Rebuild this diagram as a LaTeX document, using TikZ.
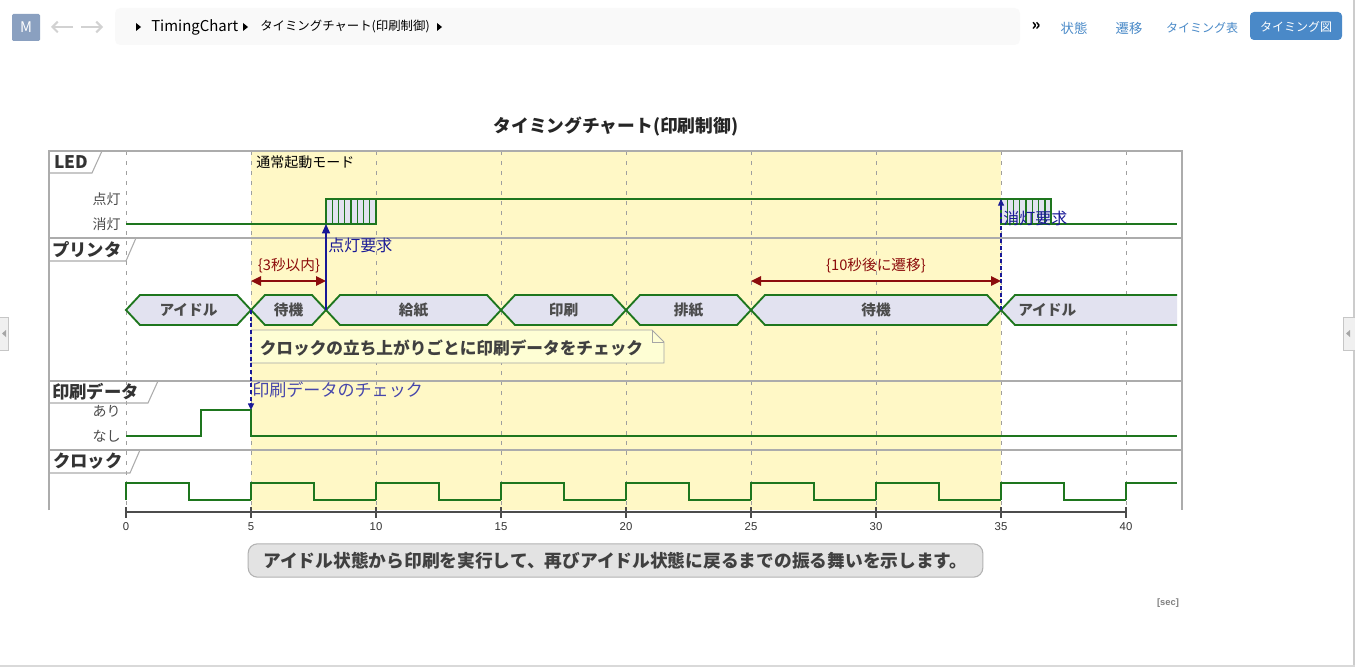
\documentclass[tikz,border=0pt]{standalone}
\usepackage{fontspec}
\setmainfont{Noto Sans CJK JP}
\newfontfamily\numfont{Liberation Sans}
\usepackage{tikz}
\usetikzlibrary{arrows.meta,calc,positioning}

\definecolor{sig}{RGB}{30,118,30}
\definecolor{statefill}{RGB}{226,226,240}
\definecolor{modefill}{RGB}{255,248,198}
\definecolor{reqblue}{RGB}{24,24,150}
\definecolor{durred}{RGB}{140,12,12}
\definecolor{notefill}{RGB}{254,254,212}
\definecolor{linkblue}{RGB}{74,138,200}
\definecolor{btnblue}{RGB}{74,137,200}
\definecolor{mbox}{RGB}{138,160,192}

\begin{document}
\begin{tikzpicture}[x=0.75pt, y=-0.75pt, >=Stealth,
  sigline/.style={draw=sig, line width=1.5pt},
  statebox/.style={draw=sig, line width=1.4pt, fill=statefill},
  gridline/.style={draw=gray!75, line width=0.6pt, dash pattern=on 3pt off 4.5pt},
  frameline/.style={draw=gray!65, line width=0.8pt},
  rowname/.style={anchor=west, inner sep=0pt, font=\bfseries\fontsize{13}{15}\selectfont, text=black!80},
  levelname/.style={anchor=east, inner sep=0pt, font=\fontsize{10.5}{12}\selectfont, text=black!70},
  statename/.style={inner sep=0pt, font=\bfseries\fontsize{11}{13}\selectfont, text=black!70},
  reqarrow/.style={draw=reqblue, line width=1pt, -{Triangle[length=7pt,width=6pt]}},
  reqdash/.style={reqarrow, dash pattern=on 3pt off 2pt, -{Triangle[length=5pt,width=4.5pt]}},
  reqlabel/.style={anchor=west, inner sep=0pt, text=reqblue, font=\fontsize{12}{14}\selectfont},
  durarrow/.style={draw=durred, line width=1.2pt, {Triangle[length=7.5pt,width=7pt]}-{Triangle[length=7.5pt,width=7pt]}},
  durlabel/.style={inner sep=0pt, text=durred, font=\fontsize{11}{13}\selectfont},
  toplink/.style={inner sep=0pt, text=linkblue, font=\fontsize{10}{12}\selectfont}
]
  \useasboundingbox (0,0) rectangle (1355,667);
  \fill[white] (0,0) rectangle (1355,667);

  % Top bar
  \fill[mbox, rounded corners=1pt] (12,14) rectangle (40,41);
  \node[text=white, inner sep=0pt, font=\fontsize{11}{13}\selectfont] (mlogo) at (26,27.5) {M};
  \draw[gray!35, line width=1.5pt, -{Straight Barb[length=4pt,width=8pt]}] (73,27) -- (51,27);
  \draw[gray!35, line width=1.5pt, -{Straight Barb[length=4pt,width=8pt]}] (81,27) -- (103,27);
  \fill[gray!5, rounded corners=4pt] (115,8) rectangle (1020,45);
  \foreach \bx in {136,243,437} \fill[black] (\bx,23) -- (\bx+5,27) -- (\bx,31) -- cycle;
  \node[anchor=west, inner sep=0pt, font=\fontsize{11.2}{13}\selectfont] (crumb1) at (151,27) {TimingChart};
  \node[anchor=west, inner sep=0pt, font=\fontsize{9.3}{12}\selectfont] (crumb2) at (260,27) {タイミングチャート(印刷制御)};
  \node[inner sep=0pt, font=\bfseries\fontsize{12}{14}\selectfont] (more) at (1036,26) {»};
  \node[toplink] (lnkstate) at (1074,28) {状態};
  \node[toplink] (lnktrans) at (1129,28) {遷移};
  \node[toplink, font=\fontsize{9}{11}\selectfont] (lnktable) at (1202,28) {タイミング表};
  \fill[btnblue, rounded corners=3pt] (1250,12) rectangle (1342,40);
  \node[text=white, inner sep=0pt, font=\fontsize{9}{11}\selectfont] (lnkchart) at (1296,27) {タイミング図};

  % Window edges
  \draw[gray!40, line width=0.8pt] (1354,0) -- (1354,667);
  \draw[gray!30, line width=0.8pt] (0,666) -- (1355,666);
  \filldraw[fill=gray!12, draw=gray!45] (-1,317) rectangle (8,350);
  \fill[gray!70] (2,333.5) -- (6,330) -- (6,337) -- cycle;
  \filldraw[fill=gray!12, draw=gray!45] (1343,317) rectangle (1356,350);
  \fill[gray!70] (1346,333.5) -- (1350,330) -- (1350,337) -- cycle;

  % Title
  \node[inner sep=0pt, font=\bfseries\fontsize{13.3}{15}\selectfont, text=black!85] (title) at (616,127) {タイミングチャート(印刷制御)};

  \begin{scope}[shift={(126,0)}, x=18.75pt]
    % Mode highlight and grid
    \fill[modefill] (5,151) rectangle (35,510);
    \foreach \t in {0,5,...,40} \draw[gridline] (\t,151) -- (\t,510);
  \end{scope}

  % Frame and rows
  \draw[frameline] (49,510) -- (49,151) -- (1182,151) -- (1182,510);
  \foreach \ry in {238,381,450} \draw[frameline] (49,\ry) -- (1182,\ry);
  \draw[frameline] (49,173) -- (92,173) -- (102,151);
  \draw[frameline] (49,261) -- (126,261) -- (136,238);
  \draw[frameline] (49,403) -- (148,403) -- (158,381);
  \draw[frameline] (49,473) -- (130,473) -- (140,450);
  \node[rowname] (tabled) at (54,162) {LED};
  \node[rowname] (tabprn) at (52,250) {プリンタ};
  \node[rowname] (tabdata) at (52,392) {印刷データ};
  \node[rowname] (tabclk) at (53,461) {クロック};
  \node[anchor=west, inner sep=0pt, font=\fontsize{10.5}{12}\selectfont] (mode) at (256,162) {通常起動モード};

  \node[levelname] (lvon) at (121,199) {点灯};
  \node[levelname] (lvoff) at (121,224) {消灯};
  \node[levelname] (lvyes) at (121,411) {あり};
  \node[levelname] (lvno) at (121,436) {なし};

  \begin{scope}[shift={(126,0)}, x=18.75pt]
    % LED
    \draw[sigline] (0,224) -- (8,224);
    \draw[sigline] (10,199) -- (35,199);
    \draw[sigline] (37,224) -- (42.04,224);
    \foreach \s in {8,35} {
      \fill[statefill] (\s,199) rectangle ({\s+2},224);
      \foreach \k in {1,...,7} \draw[sig, line width=1.1pt] ({\s+\k/4},199) -- ({\s+\k/4},224);
      \draw[sigline] (\s,199) rectangle ({\s+2},224);
    }

    % Printer states
    \foreach \a/\b/\lab/\nm in {0/5/アイドル/idle, 5/8/待機/waita, 8/15/給紙/feed, 15/20/印刷/print, 20/25/排紙/eject, 25/35/待機/waitb} {
      \draw[statebox] (\a,310) -- ({\a+0.56},295) -- ({\b-0.56},295) -- (\b,310) -- ({\b-0.56},325) -- ({\a+0.56},325) -- cycle;
      \node[statename] (\nm) at ({(\a+\b)/2},310) {\lab};
    }
    \fill[statefill] (35,310) -- (35.56,295) -- (42.04,295) -- (42.04,325) -- (35.56,325) -- cycle;
    \draw[sigline, line width=1.4pt] (42.04,295) -- (35.56,295) -- (35,310) -- (35.56,325) -- (42.04,325);
    \node[statename, anchor=west] (idleb) at (35.68,310) {アイドル};

    % Print data
    \draw[sigline] (0,436) -- (3,436) -- (3,410) -- (5,410) -- (5,436) -- (42.04,436);

    % Clock
    \foreach \k in {0,...,7}
      \draw[sigline] (5*\k,500) -- (5*\k,483) -- (5*\k+2.5,483) -- (5*\k+2.5,500) -- (5*\k+5,500);
    \draw[sigline] (40,500) -- (40,483) -- (42.04,483);

    % Note
    \coordinate (nw) at (5,330);
    \draw[draw=gray!70, fill=notefill, line width=0.6pt] (nw) -- (21.04,330) -- (21.52,342) -- (21.52,363) -- (5,363) -- cycle;
    \draw[gray!70, line width=0.6pt] (21.04,330) -- (21.04,342) -- (21.52,342);
    \node[anchor=west, inner sep=0pt, font=\bfseries\fontsize{12.5}{14}\selectfont, text=black!75] (chknote) at (5.34,348) {クロックの立ち上がりごとに印刷データをチェック};

    % Constraints
    \coordinate (d3a) at (5,281);
    \coordinate (d3b) at (8,281);
    \coordinate (d10a) at (25,281);
    \coordinate (d10b) at (35,281);
    \draw[durarrow] (d3a) -- (d3b);
    \draw[durarrow] (d10a) -- (d10b);
    \node[durlabel] (d3lab) at (6.52,266) {\{3秒以内\}};
    \node[durlabel] (d10lab) at (30,266) {\{10秒後に遷移\}};

    % Messages
    \coordinate (tr8) at (8,310);
    \coordinate (ledon) at (8,224);
    \coordinate (tr35) at (35,310);
    \coordinate (ledoff) at (35,199);
    \coordinate (tr5) at (5,310);
    \coordinate (datachk) at (5,410);
    \draw[reqarrow] (tr8) -- (ledon);
    \draw[reqdash] (tr35) -- (ledoff);
    \draw[reqdash] (tr5) -- (datachk);
    \node[reqlabel] (onlab) at (8.08,245) {点灯要求};
    \node[reqlabel] (offlab) at (35.08,218) {消灯要求};
    \node[reqlabel, font=\fontsize{12.8}{14}\selectfont, text=reqblue!80] (chklab) at (5.04,390) {印刷データのチェック};

    % Time axis
    \draw[black!70, line width=2pt] (0,512) -- (40,512);
    \foreach \t in {0,5,...,40} {
      \draw[black!70, line width=1.5pt] (\t,507) -- (\t,518);
      \node[inner sep=0pt, font=\numfont\fontsize{8.5}{10}\selectfont, text=black!80] (ax\t) at (\t,527) {\t};
    }
  \end{scope}

  % Caption
  \node[draw=gray!60, fill=gray!22, rounded corners=7pt, minimum width=551pt, minimum height=25pt, inner sep=0pt, line width=0.8pt, font=\bfseries\fontsize{13.3}{15}\selectfont, text=black!75] (caption) at (615.5,560.5) {アイドル状態から印刷を実行して、再びアイドル状態に戻るまでの振る舞いを示します。};
  \node[inner sep=0pt, font=\numfont\bfseries\fontsize{7}{9}\selectfont, text=gray] (unit) at (1168,603) {[sec]};
\end{tikzpicture}
\end{document}
